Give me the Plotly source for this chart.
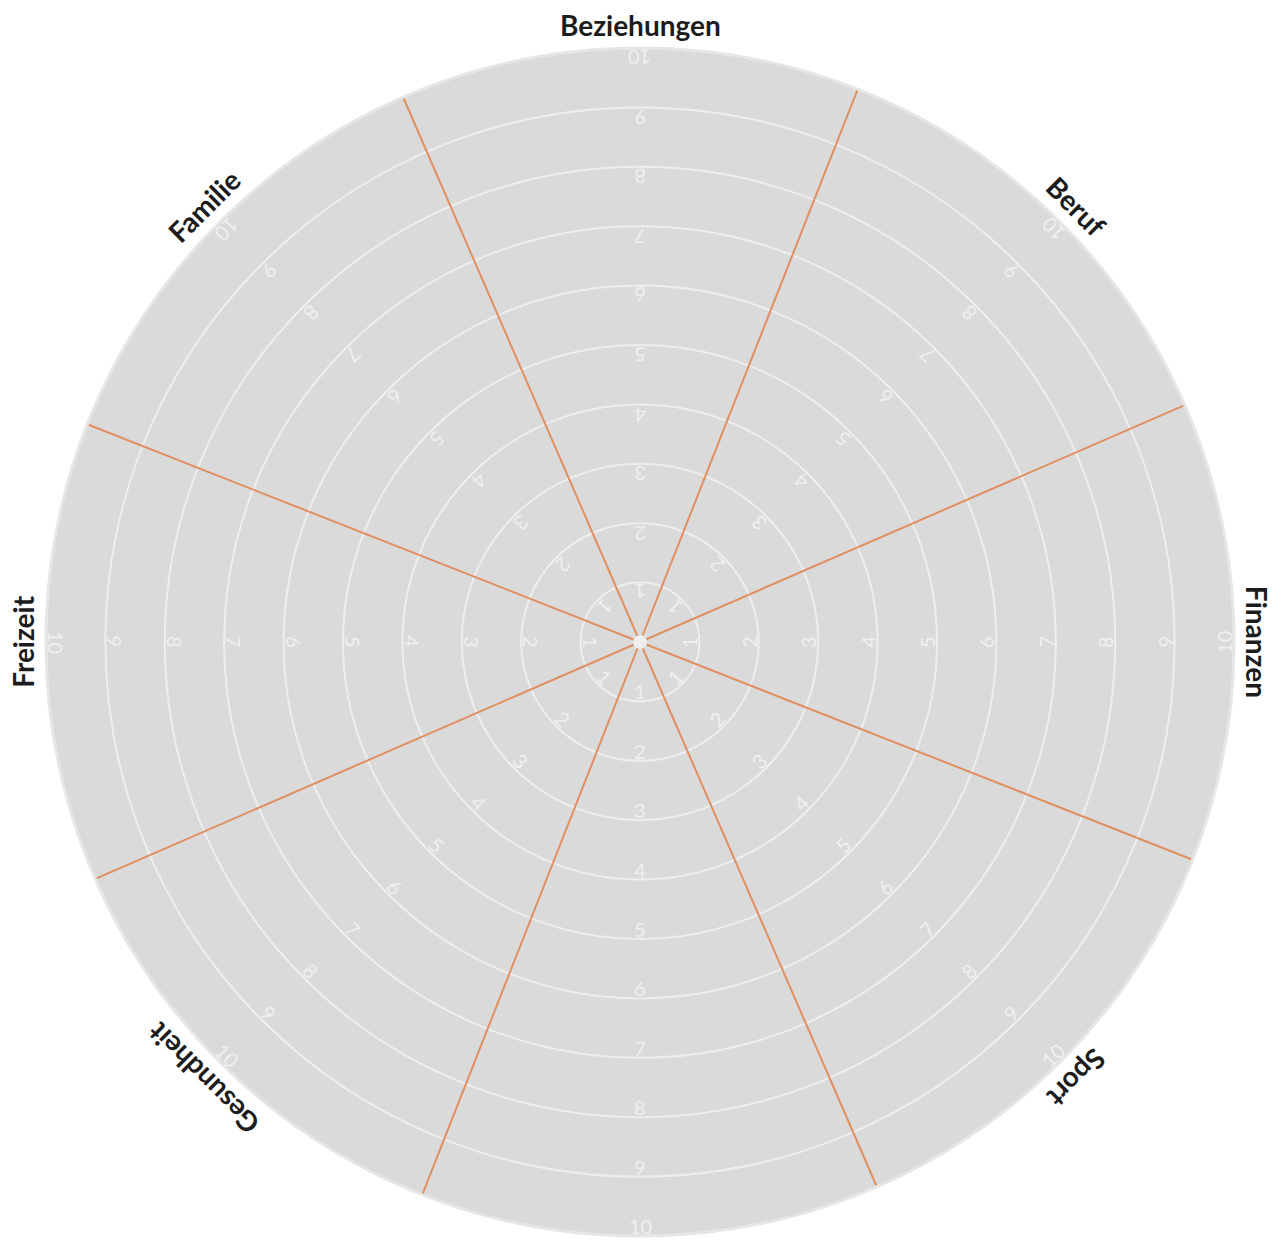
import math
import plotly.graph_objects as go

# ---- data ----
categories = ["Beziehungen", "Beruf", "Finanzen", "Sport", "", "Gesundheit", "Freizeit", "Familie"]
# (the bottom category's name lies outside the visible picture)
scale_values = [1, 2, 3, 4, 5, 6, 7, 8, 9, 10]
scale_labels = [str(v) for v in scale_values]
r_max = 10

n = len(categories)
step = 360 / n
center_angles = [90 - i * step for i in range(n)]
spoke_offset = 1.0  # spokes in the original are turned very slightly
boundary_angles = [a + step / 2 + spoke_offset for a in center_angles]


def to_paper(r, theta_deg):
    t = math.radians(theta_deg)
    return 0.5 + 0.5 * (r / r_max) * math.cos(t), 0.5 + 0.5 * (r / r_max) * math.sin(t)


def norm(a):
    return (a + 180) % 360 - 180


fig = go.Figure()

# spokes between sectors
r_line, t_line = [], []
for a in boundary_angles:
    r_line += [0, r_max, None]
    t_line += [a, a, None]
fig.add_trace(go.Scatterpolar(r=r_line, theta=t_line, mode="lines",
                              line=dict(color="#e08f61", width=2),
                              hoverinfo="skip", showlegend=False))
# centre dot
fig.add_trace(go.Scatterpolar(r=[0], theta=[0], mode="markers",
                              marker=dict(size=14, color="#efefef"),
                              hoverinfo="skip", showlegend=False))

annotations = []
for name, a in zip(categories, center_angles):
    x, y = to_paper(10.39, a)
    annotations.append(dict(x=x, y=y, xref="paper", yref="paper", text=f"<b>{name}</b>",
                            showarrow=False, xanchor="center", yanchor="middle",
                            textangle=norm(90 - a),
                            font=dict(family="Lato", size=28, color="#1c1c1c")))
    for v, lab in zip(scale_values, scale_labels):
        x, y = to_paper(v - 0.17, a)
        annotations.append(dict(x=x, y=y, xref="paper", yref="paper", text=lab,
                                showarrow=False, xanchor="center", yanchor="middle",
                                textangle=norm(270 - a),
                                font=dict(family="Lato", size=20, color="#f0f0f0")))

fig.update_layout(
    width=1279, height=1249,
    margin=dict(l=46, r=45, t=48, b=13),
    paper_bgcolor="white", plot_bgcolor="white",
    showlegend=False,
    polar=dict(
        domain=dict(x=[0, 1], y=[0, 1]),
        bgcolor="#dadada",
        radialaxis=dict(range=[0, r_max], tickvals=scale_values, showticklabels=False,
                        ticks="", showline=False, gridcolor="#eeeeee", gridwidth=2),
        angularaxis=dict(rotation=0, direction="counterclockwise", showticklabels=False,
                         ticks="", showgrid=False, linecolor="#e6e6e6", linewidth=3),
    ),
    annotations=annotations,
)

fig.write_html("out.html", config={"displayModeBar": False},
               post_script="document.body.style.margin='0';document.body.style.overflow='hidden';")
